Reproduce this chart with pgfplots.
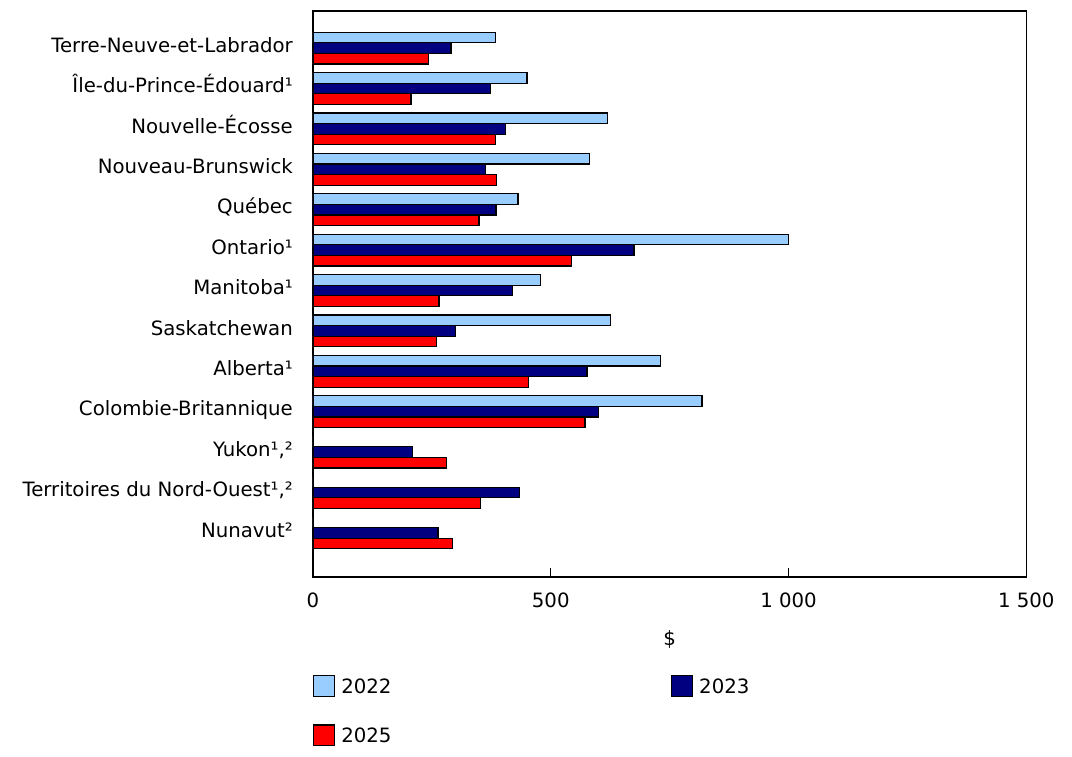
\documentclass[border=0pt]{standalone}
\usepackage{fontspec}
\setmainfont{DejaVu Sans}
\usepackage{pgfplots}
\pgfplotsset{compat=1.18}
\definecolor{c22}{RGB}{153,204,255}
\definecolor{c23}{RGB}{0,0,128}
\definecolor{c25}{RGB}{255,0,0}
\newcommand{\ff}{\fontsize{14.8}{17.8}\selectfont}
\begin{document}
\ff
\begin{tikzpicture}
\path[use as bounding box] (-234.75pt,-135pt) rectangle (569.25pt,432.75pt);
\begin{axis}[
  at={(0,0)}, anchor=south west,
  scale only axis, width=535pt, height=424.5pt,
  xbar, bar width=0.262,
  xmin=0, xmax=1500, ymin=-0.92, ymax=13.09, y dir=reverse,
  xtick={0,500,1000,1500}, xticklabels={0,500,1 000,1 500},
  ytick={0,...,12},
  yticklabels={Terre-Neuve-et-Labrador,Île-du-Prince-Édouard¹,Nouvelle-Écosse,Nouveau-Brunswick,Québec,Ontario¹,Manitoba¹,Saskatchewan,Alberta¹,Colombie-Britannique,{Yukon¹,²},{Territoires du Nord-Ouest¹,²},Nunavut²},
  tick align=inside, major tick length=6.75pt,
  xtick pos=bottom,
  ytick style={draw=none},
  xtick style={black, line width=0.75pt},
  axis line style={line width=1pt},
  tick label style={font=\ff, text height=10.8pt, text depth=0pt},
  yticklabel style={xshift=-10pt, yshift=2.25pt},
  xticklabel style={yshift=-7.07pt},
  xlabel={\$},
  xlabel style={font=\ff, at={(axis description cs:0.5,0)}, anchor=base, yshift=-51pt},
  legend columns=2,
  legend cell align=left,
  legend image code/.code={\draw[#1, line width=0.9pt] (0pt,-7.75pt) rectangle (15.5pt,7.75pt);},
  legend style={draw=none, fill=none, at={(axis description cs:0,0)}, anchor=north west, yshift=-73.5pt,
    inner sep=0pt, outer sep=0pt, row sep=20.7pt,
    nodes={inner sep=0pt, text height=10.8pt, text depth=0pt, font=\ff},
    /tikz/every even column/.append style={column sep=209.6pt},
    /tikz/every odd column/.append style={column sep=4.8pt}},
]
\addplot[xbar, bar shift=-0.262, fill=c22, draw=black, line width=0.9pt] coordinates {
  (384,0) (450,1) (619,2) (581,3) (431,4) (1000,5) (478,6) (626,7) (731,8) (818,9) (0,10) (0,11) (0,12)};
\addplot[xbar, bar shift=0, fill=c23, draw=black, line width=0.9pt] coordinates {
  (290,0) (374,1) (405,2) (363,3) (385,4) (675,5) (419,6) (299,7) (576,8) (601,9) (209,10) (434,11) (263,12)};
\addplot[xbar, bar shift=0.262, fill=c25, draw=black, line width=0.9pt] coordinates {
  (243,0) (206,1) (384,2) (386,3) (349,4) (543,5) (265,6) (260,7) (453,8) (572,9) (281,10) (353,11) (294,12)};
\legend{2022,2023,2025}
\end{axis}
\end{tikzpicture}
\end{document}
